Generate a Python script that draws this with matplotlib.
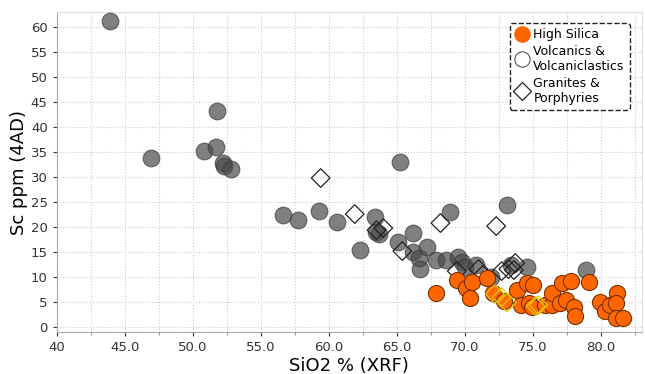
import matplotlib
matplotlib.use('Agg')
import matplotlib.pyplot as plt
from matplotlib.lines import Line2D
from matplotlib.ticker import MultipleLocator

# Volcanics & Volcaniclastics (grey circles)
volc_si = [43.9, 46.9, 50.8, 51.7, 51.8, 52.2, 52.3, 52.8, 56.6, 57.7, 59.3, 60.6,
           62.3, 63.4, 63.5, 63.7, 65.2, 65.1, 66.2, 66.2, 66.6, 66.7, 67.2, 67.9,
           68.6, 68.9, 69.5, 69.8, 70.0, 70.8, 71.9, 73.1, 73.4, 74.6, 78.9]
volc_sc = [61.2, 33.8, 35.2, 36.0, 43.2, 32.8, 32.2, 31.6, 22.4, 21.4, 23.2, 21.0,
           15.4, 22.0, 19.0, 18.6, 33.0, 17.0, 18.8, 15.0, 13.8, 11.6, 16.0, 13.4,
           13.4, 23.0, 14.0, 13.0, 12.0, 12.4, 10.0, 24.4, 12.4, 12.0, 11.4]

# Granites & Porphyries (open diamonds)
gran_si = [59.4, 61.9, 63.5, 64.0, 65.4, 68.2, 72.3, 69.4, 71.0, 71.3, 72.7, 73.2, 73.7, 73.6]
gran_sc = [29.8, 22.6, 19.4, 19.8, 15.2, 20.8, 20.2, 11.2, 11.6, 10.4, 11.2, 11.6, 12.8, 11.4]

# High Silica (orange circles)
hs_si = [67.9, 69.4, 70.1, 70.5, 70.4, 71.6, 72.1, 73.8, 74.1, 74.6, 75.0, 74.7, 74.9,
         75.9, 76.4, 76.4, 77.1, 77.8, 77.0, 77.4, 78.0, 78.1, 79.1, 79.9, 80.3, 80.7,
         81.2, 81.1, 81.1, 81.6, 72.9]
hs_sc = [6.8, 9.4, 7.8, 9.0, 5.8, 9.8, 6.8, 7.4, 4.4, 8.8, 8.4, 4.8, 4.0,
         4.4, 4.4, 6.8, 8.8, 9.2, 4.8, 5.4, 4.0, 2.2, 9.0, 5.0, 3.2, 4.4,
         6.8, 4.8, 1.8, 1.8, 5.2]

# High silica granites (yellow diamonds)
hsg_si = [72.2, 72.7, 73.1, 75.2, 75.4]
hsg_sc = [6.6, 6.0, 4.9, 4.2, 4.4]

fig = plt.figure(figsize=(6.45, 3.74), dpi=100)
ax = fig.add_axes([0.088, 0.112, 0.907, 0.856])

ax.scatter(volc_si, volc_sc, s=145, color='#4a4a4a', alpha=0.7, edgecolors='#3a3a3a', linewidths=0.8, zorder=3)
ax.scatter(gran_si, gran_sc, s=90, marker='D', facecolors='none', edgecolors='#222222', linewidths=0.9, zorder=4)
ax.scatter(hs_si, hs_sc, s=135, color='#ff6600', edgecolors='#7a3000', linewidths=0.8, zorder=5)
ax.scatter(hsg_si, hsg_sc, s=90, marker='D', facecolors='none', edgecolors='#e8c800', linewidths=0.9, zorder=6)

ax.set_xlim(40, 83)
ax.set_ylim(-1, 63)
ax.xaxis.set_minor_locator(MultipleLocator(2.5))
ax.yaxis.set_major_locator(MultipleLocator(5))
xt = list(range(40, 85, 5))
ax.set_xticks(xt)
ax.set_xticklabels(['40'] + ['%.1f' % v for v in xt[1:]])
ax.grid(True, which='both', axis='x', linestyle=':', color='#cccccc', linewidth=0.8)
ax.grid(True, which='major', axis='y', linestyle=':', color='#cccccc', linewidth=0.8)
ax.set_axisbelow(True)
ax.tick_params(axis='both', labelsize=9.5, colors='#333333', length=3)
ax.tick_params(which='minor', length=2, color='#888888')
for side in ['left', 'bottom']:
    ax.spines[side].set_color('#aaaaaa')
for side in ['top', 'right']:
    ax.spines[side].set_color('#dddddd')

ax.set_xlabel('SiO2 % (XRF)', fontsize=13, labelpad=2)
ax.set_ylabel('Sc ppm (4AD)', fontsize=13, labelpad=2)

handles = [
    Line2D([], [], marker='o', linestyle='none', markersize=11, markerfacecolor='#ff6600', markeredgecolor='#ff6600'),
    Line2D([], [], marker='o', linestyle='none', markersize=11, markerfacecolor='white', markeredgecolor='#555555', markeredgewidth=0.8),
    Line2D([], [], marker='D', linestyle='none', markersize=9, markerfacecolor='white', markeredgecolor='#222222', markeredgewidth=0.9),
]
labels = ['High Silica', 'Volcanics &\nVolcaniclastics', 'Granites &\nPorphyries']
leg = ax.legend(handles, labels, loc='upper right', fontsize=9, handletextpad=0.3,
                borderpad=0.4, labelspacing=0.3, handlelength=1.2, fancybox=True,
                bbox_to_anchor=(0.99, 0.985))
frame = leg.get_frame()
frame.set_edgecolor('#222222')
frame.set_linestyle('--')
frame.set_linewidth(1.0)
frame.set_alpha(1)

plt.savefig('out.png', dpi=100)
